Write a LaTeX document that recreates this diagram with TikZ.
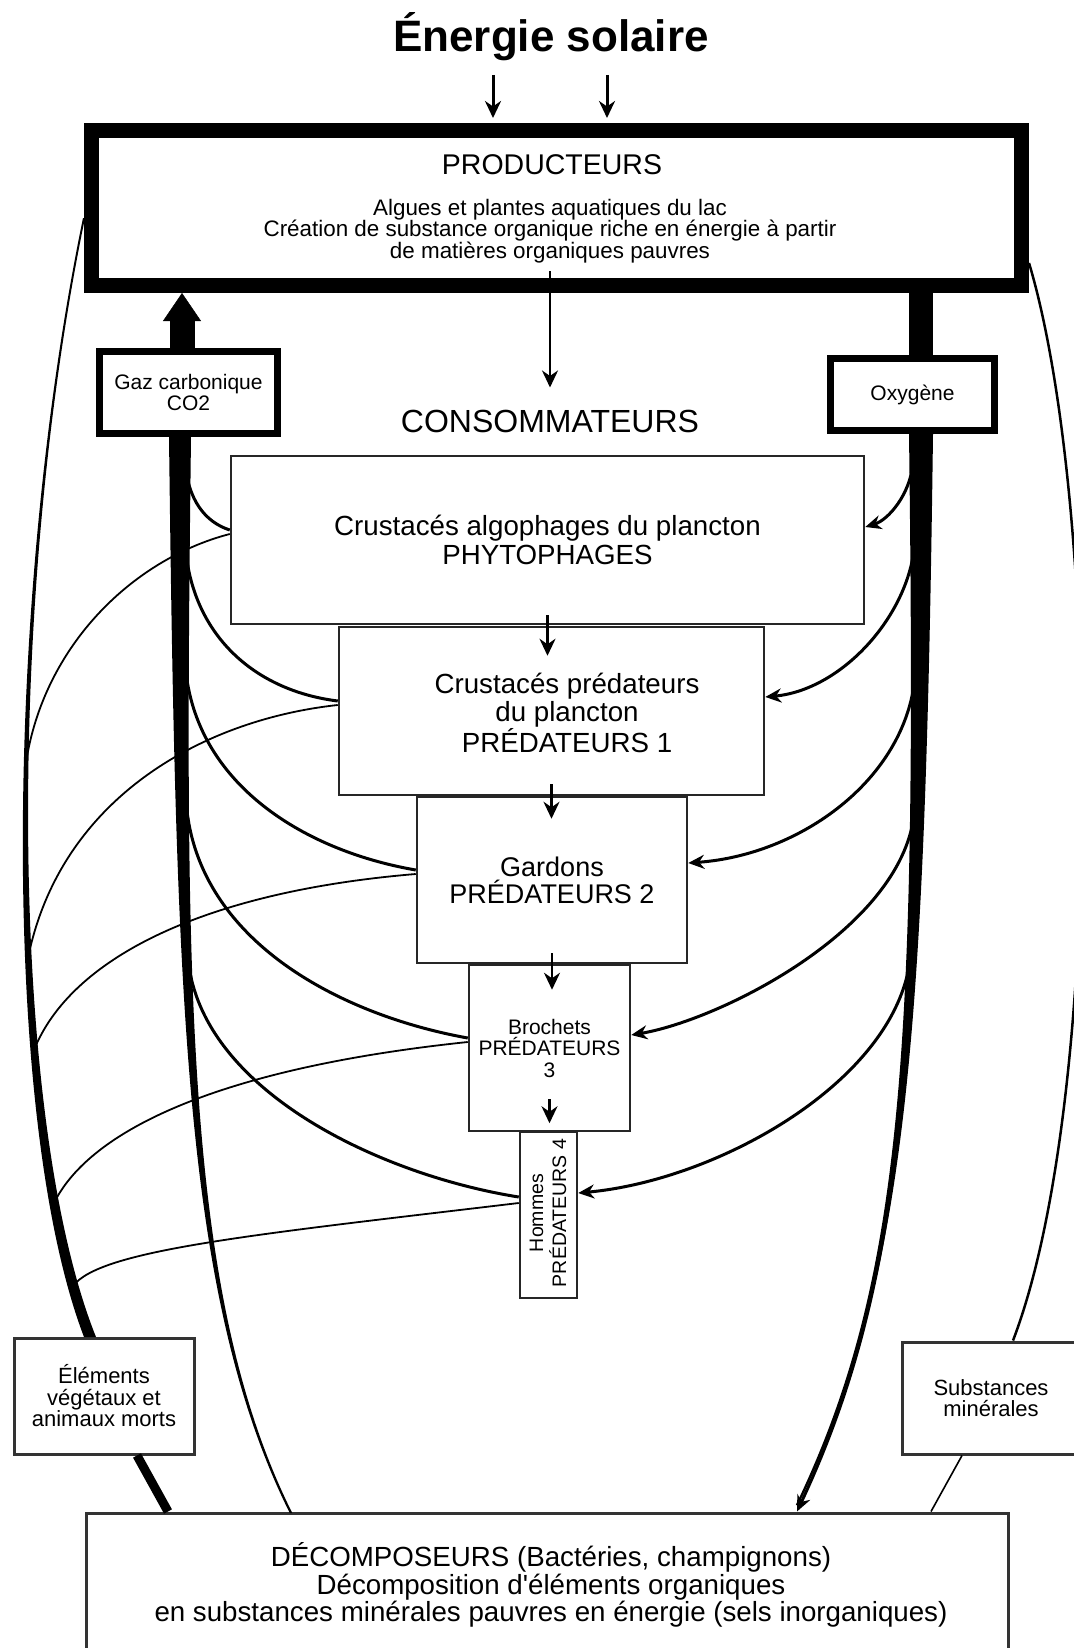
\documentclass[tikz,border=0pt]{standalone}
\usepackage{fontspec}
\setmainfont{Liberation Sans}
\newfontfamily\droit{Liberation Sans}
\usetikzlibrary{arrows.meta,positioning}

\tikzset{
  cadre/.style={draw, line width=15, inner sep=0},
  gazbox/.style={draw, line width=7, inner sep=0, align=center,
    font=\fontsize{21}{21}\selectfont},
  niveau/.style={draw=black!85, line width=2.5, inner sep=0, align=center,
    font=\fontsize{27.7}{28.5}\selectfont},
  sol/.style={draw=black!80, line width=3, inner sep=0, align=center,
    font=\fontsize{22}{21.5}\selectfont},
  texte/.style={inner sep=0, align=center},
  fleche/.style={line width=2.5, -{Stealth[length=17pt,width=16pt]}},
  flux/.style={line width=3},
  flecheflux/.style={line width=3, -{Stealth[length=16pt,width=14pt]}},
  mort/.style={line width=1.8},
}

\begin{document}
\begin{tikzpicture}[x=1pt,y=-1pt]
\useasboundingbox (0,0) rectangle (1073,1648);

% boites
\node[texte, font=\bfseries\fontsize{44}{44}\selectfont] (titre) at (551,37) {Énergie solaire};
\node[cadre, minimum width=930, minimum height=155] (prod) at (556.5,208) {};
\node[texte, font=\fontsize{28.5}{28.5}\selectfont] (prodtitre) at (552,165) {PRODUCTEURS};
\node[texte, font=\fontsize{22.4}{21.5}\selectfont] (proddesc) at (550,231)
  {Algues et plantes aquatiques du lac\\Création de substance organique riche en énergie à partir\\de matières organiques pauvres};
\node[texte, font=\fontsize{32}{32}\selectfont] (consomm) at (550,421) {CONSOMMATEURS};

\node[gazbox, minimum width=178, minimum height=82] (co2) at (188.5,392.5) {Gaz carbonique\\CO2};
\node[gazbox, minimum width=164, minimum height=72] (oxy) at (912.5,394.5) {Oxygène};

\node[niveau, minimum width=633, minimum height=168] (phyto) at (547.5,540)
  {Crustacés algophages du plancton\\PHYTOPHAGES};
\node[niveau, minimum width=425, minimum height=168] (pred1) at (551.5,711) {};
\node[texte, font=\fontsize{27.7}{28}\selectfont] (pred1txt) at (567,713)
  {Crustacés prédateurs\\du plancton\\PRÉDATEURS 1};
\node[niveau, minimum width=270, minimum height=166, font=\fontsize{27}{27}\selectfont] (gardons) at (552,880)
  {Gardons\\PRÉDATEURS 2};
\node[niveau, minimum width=161, minimum height=166, font=\fontsize{21}{21.5}\selectfont] (brochets) at (549.5,1048)
  {Brochets\\PRÉDATEURS\\3};
\node[niveau, minimum width=57, minimum height=166] (hommes) at (548.5,1215) {};
\node[texte, rotate=90, font=\fontsize{19.5}{23}\selectfont] (hommestxt) at (548,1213)
  {Hommes\\PRÉDATEURS 4};

\node[sol, minimum width=180, minimum height=116] (morts) at (104,1396)
  {Éléments\\végétaux et\\animaux morts};
\node[sol, minimum width=178, minimum height=112] (mineraux) at (991,1398)
  {Substances\\minérales};
\node[sol, minimum width=922, minimum height=200] (decomp) at (547,1613) {};
\node[texte, font=\fontsize{27.7}{27.5}\selectfont] (decomptxt) at (551,1585)
  {DÉCOMPOSEURS (Bactéries, champignons)\\Décomposition d{\droit '}éléments organiques\\en substances minérales pauvres en énergie (sels inorganiques)};

% points libres
\coordinate (sol1) at (493,75);
\coordinate (sol2) at (607,75);
\coordinate (axeCO2) at (182,0);
\coordinate (axeO2) at (921,0);
\coordinate (co2a) at (185,462);
\coordinate (co2b) at (185,540);
\coordinate (co2c) at (185,660);
\coordinate (co2d) at (186,800);
\coordinate (co2e) at (188,958);
\coordinate (o2a) at (913,463);
\coordinate (o2b) at (914,550);
\coordinate (o2c) at (915,677);
\coordinate (o2d) at (914,815);
\coordinate (o2e) at (910,960);
\coordinate (j1) at (25,770);
\coordinate (j2) at (28,958);
\coordinate (j3) at (34,1050);
\coordinate (j4) at (54,1203);
\coordinate (j5) at (73,1286);

% energie solaire
\draw[line width=3, -{Stealth[length=17pt,width=16pt]}] (sol1) -- ([yshift=5]sol1 |- prod.north);
\draw[line width=3, -{Stealth[length=17pt,width=16pt]}] (sol2) -- ([yshift=5]sol2 |- prod.north);

% chaine alimentaire
\draw[fleche] ([yshift=22]prod.south -| consomm) -- ([yshift=22]consomm.north);
\draw[fleche] ([yshift=10]phyto.south) -- ([yshift=-30]phyto.south |- pred1.north);
\draw[fleche] ([yshift=12]pred1.south) -- ([yshift=-23]pred1.south |- gardons.north);
\draw[fleche] ([yshift=11]gardons.south) -- ([yshift=-26]gardons.south |- brochets.north);
\draw[fleche] ([yshift=33]brochets.south) -- ([yshift=9]brochets.south);

% gaz carbonique
\draw[line width=25, -{Triangle[length=28pt,width=38pt,line width=0.5pt]}] (co2.north -| axeCO2) -- (prod.south -| axeCO2);
\fill (169,437) .. controls (176,1000) and (183.75,1300) .. (289.75,1513)
  -- (292.25,1513) .. controls (186.25,1300) and (184,1000) .. (191,437) -- cycle;
\draw[flux] (co2a) .. controls (188,500) and (205,522) .. ([yshift=10]phyto.west);
\draw[flux] (co2b) .. controls (189,630) and (250,690) .. ([yshift=10]pred1.west);
\draw[flux] (co2c) .. controls (191,780) and (300,850) .. ([yshift=10]gardons.west);
\draw[flux] (co2d) .. controls (195,940) and (340,1015) .. ([yshift=10]brochets.west);
\draw[flux] (co2e) .. controls (200,1090) and (380,1175) .. ([yshift=18]hommes.west);

% oxygene
\draw[line width=24] (prod.south -| axeO2) -- (oxy.north -| axeO2);
\fill (909,434) .. controls (917,1050) and (903.75,1280) .. (795.75,1505)
  -- (798.25,1505) .. controls (906.25,1280) and (925,1050) .. (933,434) -- cycle;
\draw[flecheflux] (oxy.south -| axeO2) .. controls (921,1050) and (905,1280) .. ([xshift=250]decomp.north);
\draw[flecheflux] (o2a) .. controls (910,495) and (888,520) .. ([yshift=13]phyto.east);
\draw[flecheflux] (o2b) .. controls (905,620) and (840,690) .. ([yshift=14]pred1.east);
\draw[flecheflux] (o2c) .. controls (905,780) and (800,855) .. ([yshift=17]gardons.east);
\draw[flecheflux] (o2d) .. controls (900,930) and (720,1020) .. ([yshift=13]brochets.east);
\draw[flecheflux] (o2e) .. controls (895,1080) and (720,1180) .. ([yshift=22]hommes.east);

% elements morts
\fill (83,218) .. controls (4.2,600) and (1,1120) .. (84,1337)
  -- (96,1337) .. controls (9,1120) and (5.8,600) .. (85,218) -- cycle;
\draw[mort] ([yshift=6]phyto.west) .. controls (130,560) and (40,650) .. (j1);
\draw[mort] ([yshift=6]pred1.west) .. controls (200,720) and (60,800) .. (j2);
\draw[mort] ([yshift=6]gardons.west) .. controls (200,892) and (70,960) .. (j3);
\draw[mort] ([yshift=6]brochets.west) .. controls (220,1068) and (90,1130) .. (j4);
\draw[mort] ([yshift=12]hommes.west) .. controls (250,1235) and (100,1250) .. (j5);
\draw[line width=9] ([xshift=33]morts.south) -- ([xshift=-379]decomp.north);

% substances minerales
\draw[line width=2.5] ([yshift=-55]prod.east) .. controls (1100,500) and (1105,1100) .. ([xshift=22]mineraux.north);
\draw[line width=1.6] ([xshift=-29]mineraux.south) -- ([xshift=384]decomp.north);
\end{tikzpicture}
\end{document}
